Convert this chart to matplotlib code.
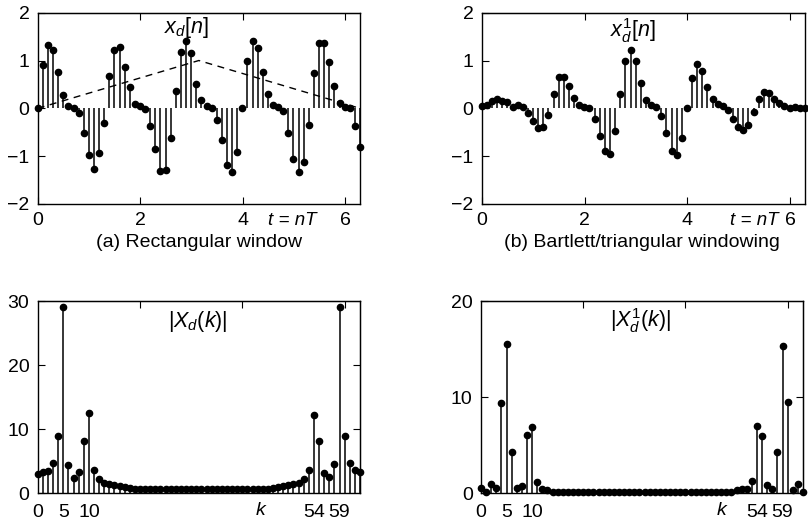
import matplotlib
matplotlib.use('Agg')
import matplotlib.pyplot as plt
import numpy as np

plt.rcParams['font.family'] = ['Liberation Sans', 'DejaVu Sans']
plt.rcParams['mathtext.fontset'] = 'custom'
plt.rcParams['mathtext.rm'] = 'Liberation Sans'
plt.rcParams['mathtext.it'] = 'Liberation Sans:italic'
plt.rcParams['mathtext.bf'] = 'Liberation Sans:bold'

# -- data ------------------------------------------------------------------
n = np.arange(64)
T = 2 * np.pi / 63
t = n * T

# x_d[n], rectangular window
x_rect = [0.00, 0.91, 1.32, 1.21, 0.75, 0.28, 0.05, 0.01, -0.10, -0.52,
          -0.98, -1.26, -0.94, -0.30, 0.68, 1.23, 1.28, 0.86, 0.45, 0.10,
          0.05, -0.01, -0.37, -0.86, -1.31, -1.28, -0.63, 0.36, 1.18, 1.41,
          1.15, 0.50, 0.17, 0.05, 0.01, -0.24, -0.66, -1.18, -1.34, -0.91,
          0.01, 1.00, 1.41, 1.27, 0.76, 0.31, 0.06, 0.03, -0.06, -0.51,
          -1.05, -1.33, -1.12, -0.35, 0.73, 1.36, 1.36, 0.97, 0.47, 0.12,
          0.03, 0.00, -0.36, -0.80]

# x_d^1[n], Bartlett windowed
x_bart = [0.04, 0.08, 0.16, 0.19, 0.16, 0.13, 0.03, 0.08, 0.02, -0.10,
          -0.27, -0.41, -0.38, -0.13, 0.31, 0.66, 0.66, 0.46, 0.22, 0.06,
          0.03, 0.00, -0.22, -0.57, -0.90, -0.95, -0.48, 0.31, 0.99, 1.23,
          0.98, 0.52, 0.17, 0.08, 0.02, -0.17, -0.52, -0.90, -0.97, -0.62,
          0.01, 0.63, 0.92, 0.78, 0.45, 0.19, 0.10, 0.04, -0.03, -0.22,
          -0.38, -0.45, -0.35, -0.08, 0.20, 0.34, 0.32, 0.20, 0.11, 0.05,
          0.01, 0.03, 0.00, 0.00]

# triangular window outline (dashed)
win_t = [0, np.pi, 2 * np.pi]
win_v = [0, 1, 0]

# |X_d(k)|
X_rect = [3.0, 3.3, 3.5, 4.8, 9.0, 29.1, 4.4, 2.4, 3.3, 8.1,
          12.6, 3.6, 2.2, 1.6, 1.4, 1.3, 1.2, 1.0, 0.8, 0.7,
          0.7, 0.7, 0.7, 0.65, 0.65, 0.65, 0.65, 0.65, 0.65, 0.65,
          0.65, 0.65, 0.65, 0.65, 0.65, 0.65, 0.65, 0.65, 0.65, 0.65,
          0.65, 0.65, 0.7, 0.7, 0.7, 0.7, 0.8, 1.0, 1.2, 1.3,
          1.4, 1.6, 2.2, 3.6, 12.2, 8.1, 3.2, 2.6, 4.5, 29.1,
          9.0, 4.8, 3.6, 3.4]

# |X_d^1(k)|
X_bart = [0.5, 0.1, 0.95, 0.5, 9.4, 15.5, 4.3, 0.5, 0.75, 6.1,
          6.9, 1.2, 0.4, 0.3, 0.15, 0.1, 0.1, 0.1, 0.1, 0.1,
          0.1, 0.1, 0.1, 0.1, 0.1, 0.1, 0.1, 0.1, 0.1, 0.1,
          0.1, 0.1, 0.1, 0.1, 0.1, 0.1, 0.1, 0.1, 0.1, 0.1,
          0.1, 0.1, 0.1, 0.1, 0.1, 0.1, 0.1, 0.1, 0.1, 0.15,
          0.3, 0.4, 0.4, 1.3, 7.0, 6.0, 0.85, 0.4, 4.3, 15.3,
          9.5, 0.3, 0.95, 0.15]

k = np.arange(64)
k_ticks = [0, 5, 10, 54, 59]

# -- figure ------------------------------------------------------------------
fig = plt.figure(figsize=(8.08, 5.24), dpi=100)
ax_a = fig.add_axes([0.0467, 0.6107, 0.3988, 0.3651])
ax_b = fig.add_axes([0.5962, 0.6107, 0.4000, 0.3651])
ax_c = fig.add_axes([0.0467, 0.0586, 0.3988, 0.3664])
ax_d = fig.add_axes([0.5953, 0.0586, 0.3985, 0.3664])

TICK_FS = 14
LAB_FS = 15.5


def stems(ax, x, y):
    ml, sl, bl = ax.stem(x, y, linefmt='k-', markerfmt='ko', basefmt=' ')
    plt.setp(sl, linewidth=1.1)
    plt.setp(ml, markersize=4.5)
    ml.set_clip_on(False)


def style(ax):
    ax.tick_params(direction='in', length=5, labelsize=TICK_FS, pad=6,
                   top=False, right=False)
    for s in ax.spines.values():
        s.set_linewidth(1.0)


def bottom_label(ax, xpos, txt, fs=13.5):
    ax.annotate(txt, xy=(xpos, 0), xycoords=('data', 'axes fraction'),
                xytext=(0, -6), textcoords='offset points',
                ha='center', va='top', fontsize=fs, fontstyle='italic')


def top_ticks(ax, ticks):
    sec = ax.secondary_xaxis('top')
    sec.set_xticks(ticks)
    sec.tick_params(direction='in', length=5, labeltop=False)


def right_ticks(ax, ticks):
    sec = ax.secondary_yaxis('right')
    sec.set_yticks(ticks)
    sec.tick_params(direction='in', length=5, labelright=False)


# (a) rectangular
stems(ax_a, t, x_rect)
ax_a.plot(win_t, win_v, 'k--', linewidth=1.0, dashes=(5, 4))
ax_a.set_xlim(0, 2 * np.pi)
ax_a.set_ylim(-2, 2)
ax_a.set_xticks([0, 2, 4, 6])
ax_a.set_yticks([-2, -1, 0, 1, 2])
style(ax_a)
top_ticks(ax_a, [2, 4, 6])
ax_a.text(2.9, 1.68, r'$x_d[n]$', fontsize=LAB_FS, ha='center', va='center')
bottom_label(ax_a, 4.96, 't = nT')
fig.text(0.246, 0.538, '(a) Rectangular window', ha='center', va='center',
         fontsize=TICK_FS)

# (b) Bartlett
stems(ax_b, t, x_bart)
ax_b.set_xlim(0, 2 * np.pi)
ax_b.set_ylim(-2, 2)
ax_b.set_xticks([0, 2, 4, 6])
ax_b.set_yticks([-2, -1, 0, 1, 2])
style(ax_b)
top_ticks(ax_b, [2, 4, 6])
ax_b.text(2.95, 1.63, r'$x_d^1[n]$', fontsize=LAB_FS, ha='center', va='center')
bottom_label(ax_b, 5.3, 't = nT')
fig.text(0.795, 0.538, '(b) Bartlett/triangular windowing', ha='center',
         va='center', fontsize=TICK_FS)

# (c) |X_d(k)|
stems(ax_c, k, X_rect)
ax_c.set_xlim(0, 63)
ax_c.set_ylim(0, 30)
ax_c.set_xticks(k_ticks)
ax_c.set_yticks([0, 10, 20, 30])
style(ax_c)
ax_c.tick_params(axis='x', length=0, pad=8)
top_ticks(ax_c, [20, 40, 60])
right_ticks(ax_c, [10, 20])
ax_c.text(31.2, 26.8, r'$|X_d(k)|$', fontsize=LAB_FS, ha='center', va='center')
bottom_label(ax_c, 43.5, 'k', TICK_FS)

# (d) |X_d^1(k)|
stems(ax_d, k, X_bart)
ax_d.set_xlim(0, 63)
ax_d.set_ylim(0, 20)
ax_d.set_xticks(k_ticks)
ax_d.set_yticks([0, 10, 20])
style(ax_d)
ax_d.tick_params(axis='x', length=0, pad=8)
top_ticks(ax_d, [20, 40, 60])
right_ticks(ax_d, [10])
ax_d.text(31.3, 18.0, r'$|X_d^1(k)|$', fontsize=LAB_FS, ha='center', va='center')
bottom_label(ax_d, 47, 'k', TICK_FS)

fig.savefig('out.png', dpi=100)
